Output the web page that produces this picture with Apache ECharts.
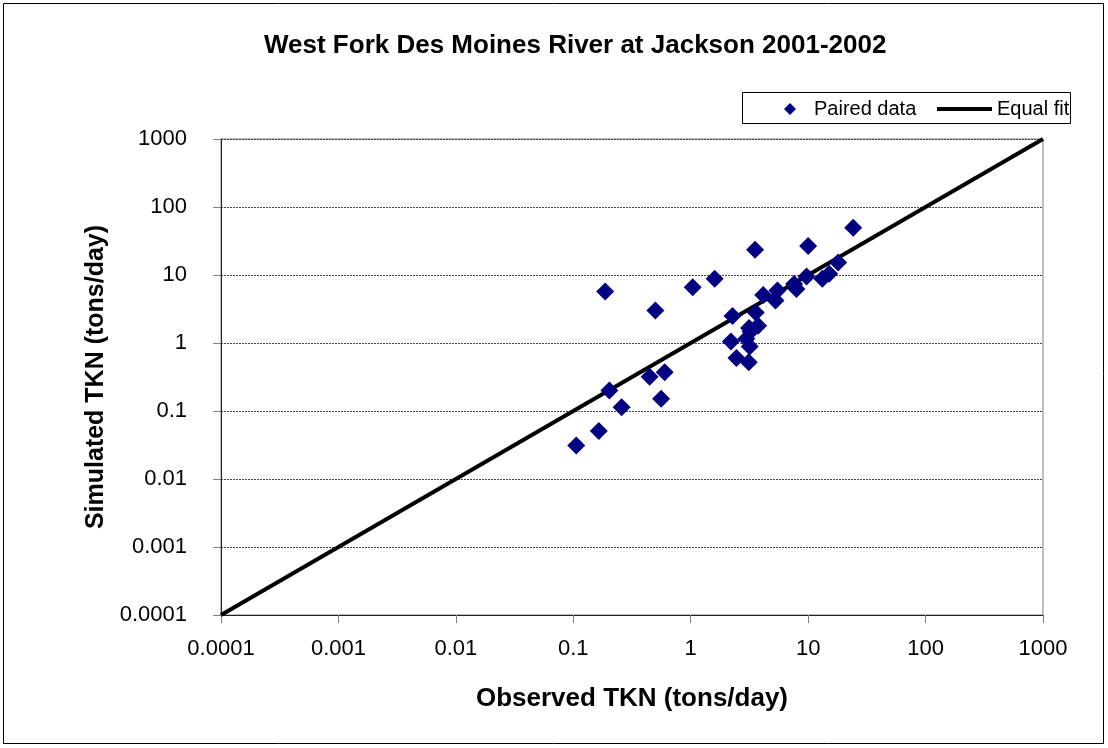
<!DOCTYPE html>
<html>
<head>
<meta charset="utf-8">
<script src="https://cdn.jsdelivr.net/npm/echarts@6/dist/echarts.min.js"></script>
<style>html,body{margin:0;padding:0;background:#fff}#c{width:1108px;height:748px}</style>
</head>
<body>
<div id="c"></div>
<script>
const tickLabels = ['0.0001','0.001','0.01','0.1','1','10','100','1000'];
const observed = [0.106,0.165,0.187,0.203,0.258,0.447,0.50,0.60,0.56,1.04,1.6,3.53,10.0,24.2,2.27,2.2,2.45,3.12,3.18,2.98,3.23,3.75,3.58,4.14,5.27,5.48,7.6,7.95,9.7,13.2,15.1,18.0,3.14];
const simulated = [0.031,0.051,5.7,0.20,0.114,0.32,3.0,0.37,0.152,6.6,8.8,23.5,26.7,49.6,2.5,1.05,0.60,0.52,0.89,1.15,1.48,1.8,2.8,5.07,4.2,5.9,7.4,6.2,9.5,8.8,10.4,15.3,1.66];
const equalFit = [0.0001, 1000];

const font = 'Arial, "Liberation Sans", sans-serif';
const chart = echarts.init(document.getElementById('c'));
const fmt = v => tickLabels[Math.round(Math.log10(v)) + 4] || '';
chart.setOption({
  animation: false,
  backgroundColor: '#fff',
  title: {
    text: 'West Fork Des Moines River at Jackson 2001-2002',
    left: 259, top: 28,
    textStyle: {fontFamily: font, fontSize: 26, fontWeight: 'bold', color: '#000'}
  },
  graphic: [
    {type: 'rect', shape: {x: 3.5, y: 3.5, width: 1100, height: 740}, style: {fill: null, stroke: '#000', lineWidth: 1}, silent: true, z: -1},
    {type: 'rect', shape: {x: 742.5, y: 92.5, width: 328, height: 31}, style: {fill: '#fff', stroke: '#000', lineWidth: 1}, silent: true, z: 0}
  ],
  legend: [
    {data: [{name: 'Paired data', icon: 'diamond'}], left: 779, top: 94, itemWidth: 12, itemHeight: 12, itemGap: 0,
     textStyle: {fontFamily: font, fontSize: 20, color: '#000', padding: [0,0,0,13]}, z: 5},
    {data: [{name: 'Equal fit', icon: 'rect'}], left: 932, top: 94, itemWidth: 55, itemHeight: 4, itemGap: 0,
     textStyle: {fontFamily: font, fontSize: 20, color: '#000'}, z: 5}
  ],
  grid: {left: 221, right: 65, top: 139, bottom: 133, show: true, borderColor: '#808080', borderWidth: 1, containLabel: false},
  xAxis: {
    type: 'log', logBase: 10, min: 0.0001, max: 1000,
    name: 'Observed TKN (tons/day)', nameLocation: 'middle', nameGap: 71,
    nameTextStyle: {fontFamily: font, fontSize: 26, fontWeight: 'bold', color: '#000'},
    axisLine: {lineStyle: {color: '#222', width: 1}},
    axisTick: {show: true, inside: false, length: 8, lineStyle: {color: '#808080'}},
    minorTick: {show: false},
    axisLabel: {formatter: fmt, fontFamily: font, fontSize: 22, color: '#000', margin: 23},
    splitLine: {show: false}
  },
  yAxis: {
    type: 'log', logBase: 10, min: 0.0001, max: 1000,
    name: 'Simulated TKN (tons/day)', nameLocation: 'middle', nameGap: 112, nameRotate: 90,
    nameTextStyle: {fontFamily: font, fontSize: 25, fontWeight: 'bold', color: '#000'},
    axisLine: {show: true, lineStyle: {color: '#222', width: 1}},
    axisTick: {show: true, inside: false, length: 8, lineStyle: {color: '#808080'}},
    axisLabel: {formatter: fmt, fontFamily: font, fontSize: 22, color: '#000', margin: 34},
    splitLine: {show: true, lineStyle: {color: '#444', type: [2, 1], width: 1}}
  },
  series: [
    {
      name: 'Equal fit', type: 'line', symbol: 'none', z: 2,
      data: equalFit.map(v => [v, v]),
      lineStyle: {color: '#000', width: 4},
      itemStyle: {color: '#000'}
    },
    {
      name: 'Paired data', type: 'scatter', symbol: 'diamond', symbolSize: 18, z: 3,
      data: observed.map((v, i) => [v, simulated[i]]),
      itemStyle: {color: '#000080', opacity: 1}
    }
  ]
});
</script>
</body>
</html>
